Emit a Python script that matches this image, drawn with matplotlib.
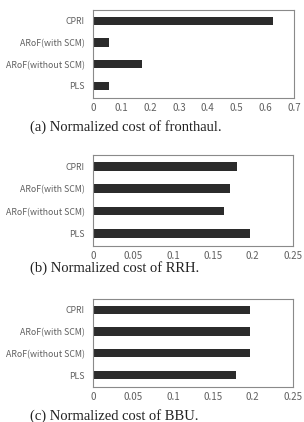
import matplotlib
matplotlib.use('Agg')
import matplotlib.pyplot as plt

labels = ['CPRI', 'ARoF(with SCM)', 'ARoF(without SCM)', 'PLS']
fronthaul = [0.628, 0.056, 0.17, 0.056]
rrh = [0.18, 0.171, 0.164, 0.196]
bbu = [0.196, 0.196, 0.196, 0.179]

captions = ['(a) Normalized cost of fronthaul.',
            '(b) Normalized cost of RRH.',
            '(c) Normalized cost of BBU.']
xmax = [0.7, 0.25, 0.25]
xticks = [[0, 0.1, 0.2, 0.3, 0.4, 0.5, 0.6, 0.7],
          [0, 0.05, 0.1, 0.15, 0.2, 0.25],
          [0, 0.05, 0.1, 0.15, 0.2, 0.25]]
xticklabels = [['0', '0.1', '0.2', '0.3', '0.4', '0.5', '0.6', '0.7'],
               ['0', '0.05', '0.1', '0.15', '0.2', '0.25'],
               ['0', '0.05', '0.1', '0.15', '0.2', '0.25']]

fig = plt.figure(figsize=(3.04, 4.22), dpi=100)
rects = [[0.306, 0.768, 0.661, 0.2085],
         [0.306, 0.417, 0.657, 0.2156],
         [0.306, 0.083, 0.657, 0.2085]]
cap_y = [0.699, 0.366, 0.015]
tick_font = ['Noto Sans CJK JP', 'DejaVu Sans']
grey = '#606060'

for i, vals in enumerate([fronthaul, rrh, bbu]):
    ax = fig.add_axes(rects[i])
    ypos = list(range(len(labels)))[::-1]
    ax.barh(ypos, vals, height=0.38, color='#2b2b2b')
    ax.set_xlim(0, xmax[i])
    ax.set_ylim(-0.55, 3.5)
    ax.set_yticks(ypos)
    ax.set_yticklabels(labels, family=tick_font, fontsize=6.3, color=grey)
    ax.set_xticks(xticks[i])
    ax.set_xticklabels(xticklabels[i], family=tick_font, fontsize=7, color=grey)
    ax.tick_params(axis='y', length=0, pad=6)
    ax.tick_params(axis='x', length=0, pad=3.5)
    for s in ax.spines.values():
        s.set_color('#8a8a8a')
        s.set_linewidth(0.8)
    fig.text(0.099, cap_y[i], captions[i], family='Liberation Serif',
             fontsize=10.5, ha='left', va='center', color='#222222')

plt.savefig('out.png', dpi=100)
